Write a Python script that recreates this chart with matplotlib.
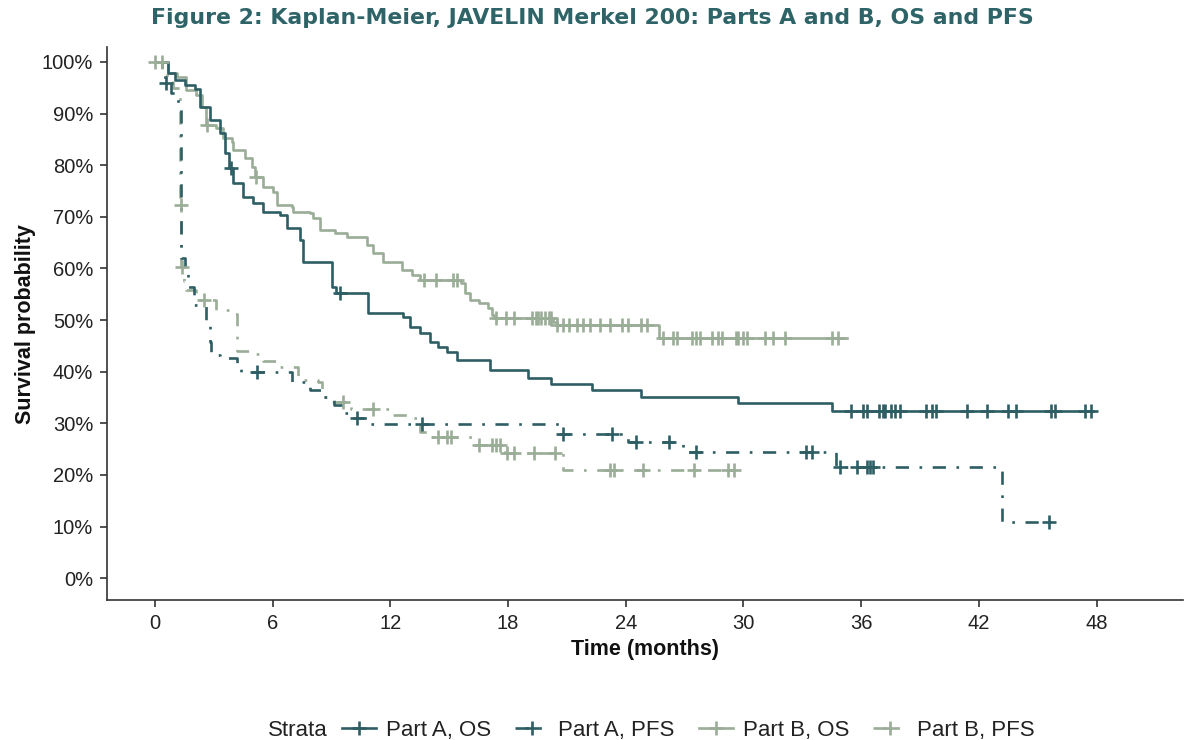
import numpy as np
import matplotlib
matplotlib.use("Agg")
import matplotlib.pyplot as plt
from matplotlib.lines import Line2D

# ---------------- data ----------------
a_os_t = [0, 0.66, 1.0, 1.53, 2.04, 2.29, 2.8, 3.3, 3.57, 3.75, 3.97, 4.48, 4.99, 5.5, 6.37, 6.73,
          7.39, 7.54, 9.0, 9.2, 10.85, 12.64, 13.0, 13.5, 14.0, 14.4, 14.9, 15.4, 17.1, 19.0, 20.2,
          22.3, 24.8, 29.7, 34.5]
a_os_s = [100, 97.9, 96.5, 95.5, 94.8, 91.3, 88.8, 86.2, 82.4, 79.5, 76.6, 73.8, 72.7, 70.9, 70.3, 67.8,
          65.5, 61.2, 56.4, 55.2, 51.4, 50.6, 48.6, 47.5, 45.7, 44.8, 43.8, 42.2, 40.3, 38.8, 37.6,
          36.4, 35.1, 33.9, 32.4]
a_os_end = 47.8
a_os_cens = [3.85, 9.43, 35.5, 36.1, 36.3, 36.9, 37.1, 37.2, 37.5, 37.7, 37.96, 39.3, 39.6, 39.8,
             41.4, 42.4, 43.5, 43.9, 45.7, 45.9, 47.4, 47.7]

a_pfs_t = [0, 0.35, 0.5, 0.8, 1.0, 1.3, 1.5, 1.7, 2.0, 2.6, 2.8, 2.85, 3.3, 4.2, 4.4, 7.0, 7.9, 8.5,
           9.1, 9.6, 10.0, 10.8, 20.6, 24.1, 26.9, 34.7, 43.2]
a_pfs_s = [100, 98.0, 96.0, 94.0, 92.5, 62.0, 59.0, 56.4, 53.0, 50.0, 45.7, 43.2, 42.6, 40.9, 40.0,
           38.0, 36.4, 35.0, 33.5, 32.0, 31.0, 29.9, 28.0, 26.4, 24.4, 21.5, 10.9]
a_pfs_end = 45.7
a_pfs_cens = [0.55, 5.2, 10.3, 13.6, 20.8, 23.3, 24.5, 26.2, 27.6, 33.2, 33.5, 34.9, 35.8, 36.3,
              36.45, 36.6, 45.6]

b_os_t = [0, 0.66, 1.1, 1.6, 2.1, 2.4, 2.6, 3.1, 3.45, 3.9, 3.97, 4.6, 4.95, 5.1, 5.5, 6.0, 6.2,
          6.98, 7.03, 7.9, 8.05, 8.4, 9.15, 9.8, 10.8, 11.1, 11.6, 12.6, 13.1, 13.5, 15.6, 15.8,
          16.05, 16.5, 16.95, 17.2, 17.3, 20.3, 20.5, 25.7]
b_os_s = [100, 97.9, 97.0, 94.6, 93.6, 91.3, 87.8, 87.2, 85.3, 84.5, 82.9, 81.4, 79.7, 77.7, 75.8,
          74.8, 72.3, 71.9, 70.9, 70.7, 69.8, 67.4, 66.9, 66.1, 64.5, 63.0, 61.2, 59.7, 58.7, 57.8,
          57.2, 55.2, 53.9, 53.3, 52.3, 51.0, 50.4, 49.6, 49.0, 46.5]
b_os_end = 35.3
b_os_cens = [0.0, 0.35, 2.65, 5.15, 13.7, 14.3, 15.2, 15.4, 17.4, 17.9, 18.3, 19.2, 19.4, 19.5,
             19.7, 19.9, 20.1, 20.2, 20.5, 20.8, 21.1, 21.5, 21.8, 22.2, 22.7, 23.2, 23.8, 24.1,
             24.8, 25.1, 25.9, 26.4, 26.6, 27.4, 27.6, 27.8, 28.4, 28.7, 28.9, 29.6, 29.7, 30.0,
             30.2, 31.1, 31.5, 32.1, 34.5, 34.8]

b_pfs_t = [0, 0.6, 0.9, 1.25, 1.33, 1.45, 1.6, 2.1, 3.1, 3.9, 4.2, 4.8, 5.5, 6.3, 7.3, 8.3, 8.5,
           9.0, 10.0, 12.1, 13.0, 13.5, 14.0, 16.2, 17.7, 17.85, 20.8]
b_pfs_s = [100, 97.0, 95.0, 72.3, 60.3, 57.5, 55.8, 53.9, 52.0, 51.2, 44.0, 43.5, 42.0, 41.0, 38.4,
           38.0, 35.0, 34.1, 32.8, 31.6, 31.0, 28.3, 27.3, 25.8, 24.8, 24.2, 20.9]
b_pfs_end = 29.8
b_pfs_cens = [1.3, 1.36, 2.5, 9.6, 11.1, 14.4, 14.9, 15.1, 16.5, 17.2, 17.4, 17.6, 17.95, 18.3,
              19.3, 20.4, 23.2, 23.4, 24.9, 27.5, 29.2, 29.5]

x_ticks = [0, 6, 12, 18, 24, 30, 36, 42, 48]
y_ticks = [0, 10, 20, 30, 40, 50, 60, 70, 80, 90, 100]
labels = ["Part A, OS", "Part A, PFS", "Part B, OS", "Part B, PFS"]

DARK = "#2D5E64"
LIGHT = "#9AAD97"
DASHDOT = (0, (5, 4, 1, 4))

plt.rcParams['font.family'] = ['Liberation Sans', 'DejaVu Sans']

fig = plt.figure(figsize=(11.84, 7.4), dpi=100)
ax = fig.add_axes([0.0904, 0.189, 0.9086, 0.7475])

series = [
    (a_os_t, a_os_s, a_os_end, a_os_cens, DARK, '-'),
    (a_pfs_t, a_pfs_s, a_pfs_end, a_pfs_cens, DARK, DASHDOT),
    (b_os_t, b_os_s, b_os_end, b_os_cens, LIGHT, '-'),
    (b_pfs_t, b_pfs_s, b_pfs_end, b_pfs_cens, LIGHT, DASHDOT),
]
order = [2, 3, 0, 1]
for i in order:
    t, s, end, cens, col, ls = series[i]
    tt = np.array(list(t) + [end])
    ss = np.array(list(s) + [s[-1]])
    ax.step(tt, ss, where='post', color=col, lw=1.9, linestyle=ls, zorder=2)
    ta = np.array(t)
    idx = np.searchsorted(ta, np.array(cens), side='right') - 1
    cy = np.array(s)[idx]
    ax.plot(cens, cy, linestyle='none', marker='+', markersize=10, mew=1.9, color=col, zorder=3)

ax.set_xlim(-2.45, 52.4)
ax.set_ylim(-4.26, 102.9)
ax.set_xticks(x_ticks)
ax.set_xticklabels([str(v) for v in x_ticks])
ax.set_yticks(y_ticks)
ax.set_yticklabels([f"{v}%" for v in y_ticks])
for sp in ['top', 'right']:
    ax.spines[sp].set_visible(False)
for sp in ['left', 'bottom']:
    ax.spines[sp].set_linewidth(1.2)
    ax.spines[sp].set_color('#333333')
ax.tick_params(axis='both', direction='out', length=5, width=1.2, color='#333333',
               labelsize=14.5, labelcolor='#222222', pad=5)

ax.set_xlabel("Time (months)", fontsize=15.5, fontweight='bold', color='#111111', labelpad=4)
ax.set_ylabel("Survival probability", fontsize=15.5, fontweight='bold', color='#111111', labelpad=4)

fig.text(0.5, 0.976, "Figure 2: Kaplan-Meier, JAVELIN Merkel 200: Parts A and B, OS and PFS",
         ha='center', va='center', fontsize=15.8, fontweight='bold', color='#2E6468',
         family=['DejaVu Sans'])

handles = []
for i in range(4):
    t, s, end, cens, col, ls = series[i]
    handles.append(Line2D([0], [0], color=col, lw=1.9, linestyle=ls, marker='+',
                          markersize=10, mew=1.9))
fig.text(0.2265, 0.0135, "Strata", ha='left', va='center', fontsize=16, color='#222222')
leg = fig.legend(handles, labels, loc='center left', bbox_to_anchor=(0.289, 0.0135), ncol=4,
                 frameon=False, fontsize=16, handlelength=1.5, columnspacing=1.1,
                 handletextpad=0.45, borderpad=0, borderaxespad=0)
for txt in leg.get_texts():
    txt.set_color('#222222')

fig.savefig("out.png", dpi=100)
